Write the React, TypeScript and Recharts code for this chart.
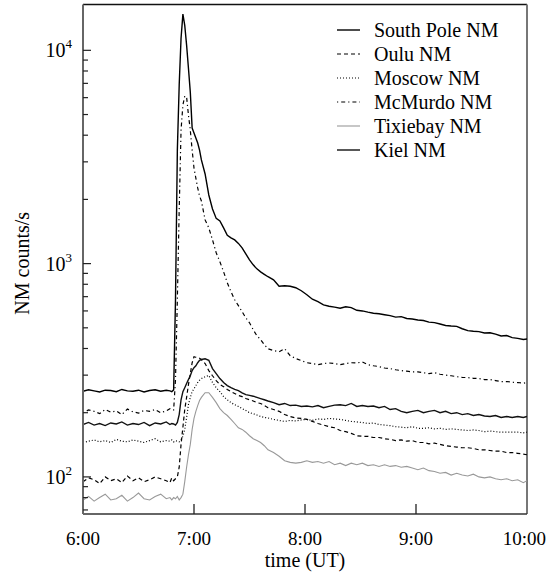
import React from 'react';
import { LineChart, Line, XAxis, YAxis, ReferenceLine, Legend, Label } from 'recharts';

// minutes after 6:00 UT
const TIME_MIN = [0,3,6,9,12,15,18,21,24,27,30,33,36,39,42,45,47,48,
  49,50,51,52,53,54,55,56,57,58,59,60,61,62,63,64,
  66,68,70,72,74,76,78,80,82,84,86,88,90,92,94,96,98,100,
  103,106,109,112,115,118,121,124,127,130,
  133,136,139,142,145,148,151,154,157,160,
  163,166,169,172,175,178,181,184,187,190,
  193,196,199,202,205,208,211,214,217,220,
  223,226,229,232,235,238,240];

const SOUTH_POLE = [252,256,253,250,255,254,251,257,253,252,255,250,254,256,252,255,253,251,
  256,678,3405,6870,11400,14790,13090,10570,8240,6370,4320,4100,3880,3675,3405,3062,
  2632,2098,1804,1629,1585,1471,1357,1320,1292,1244,1185,1111,1042,987,945,915,891,868,
  840,783,788,783,771,746,715,681,663,641,
  631,625,618,628,622,604,600,592,585,582,
  576,570,561,564,553,550,544,541,532,529,
  521,513,510,508,495,485,482,480,473,474,
  467,458,460,450,446,441,443];

const OULU = [95,99,97,93,100,96,98,94,101,96,99,95,97,100,98,96,94,99,
  96,98,100,111,142,171,207,236,271,305,343,366,364,362,360,355,
  340,315,298,283,271,265,257,251,246,241,238,233,230,227,223,221,216,211,
  207,203,196,192,189,188,186,182,178,175,
  172,170,165,163,160,156,155,155,153,153,
  151,150,148,149,147,148,145,145,143,144,
  142,140,139,138,137,137,136,134,134,133,
  132,132,130,130,129,128,127];

const MOSCOW = [145,147,149,146,148,145,150,147,146,149,147,145,148,151,146,148,147,149,
  146,148,147,146,149,155,167,190,218,236,251,259,268,277,284,289,
  295,299,277,262,251,238,230,223,218,214,209,205,200,198,195,192,190,189,
  186,184,182,184,183,185,186,184,187,186,
  188,187,186,184,182,181,180,178,179,176,
  175,174,172,171,170,172,169,169,170,168,
  169,167,168,167,166,165,166,165,163,164,
  163,162,162,162,162,161,162];

const MCMURDO = [200,206,203,198,207,201,204,196,208,202,199,205,203,207,200,204,209,206,
  206,286,677,1786,4230,5540,6100,6040,4970,4230,3405,2805,2517,2263,2076,1966,
  1603,1471,1292,1124,1020,915,813,738,677,635,595,557,528,490,459,440,417,399,
  391,386,399,370,359,351,343,340,336,340,
  342,340,336,340,343,342,346,336,332,329,
  324,322,318,315,313,311,311,308,305,308,
  303,300,298,295,293,292,290,289,286,286,
  283,280,280,278,277,275,277];

const TIXIEBAY = [78,81,77,80,83,78,79,82,77,80,84,79,78,81,83,79,80,78,
  80,79,81,78,80,83,95,111,127,142,167,188,203,216,228,236,
  248,248,236,223,209,200,194,186,178,170,167,162,156,151,148,145,140,134,
  130,125,119,117,116,117,119,117,118,116,
  118,114,116,113,116,114,116,113,114,112,
  114,112,113,111,112,110,108,110,107,106,
  104,105,102,104,102,101,103,100,99,100,
  98,97,98,96,97,94,96];

const KIEL = [176,180,175,178,174,179,177,181,175,178,176,180,174,179,177,181,176,178,
  177,175,180,196,230,251,262,274,286,298,315,325,332,343,352,355,
  358,352,322,305,289,277,268,262,257,254,248,243,241,239,236,233,230,227,
  223,218,221,216,217,214,215,213,216,211,
  214,217,218,216,221,214,216,214,215,211,
  214,207,209,203,200,203,205,200,203,205,
  200,203,198,200,196,198,194,196,193,192,
  194,190,192,190,192,190,192];

const SERIES_NAMES = ['South Pole NM', 'Oulu NM', 'Moscow NM', 'McMurdo NM', 'Tixiebay NM', 'Kiel NM'];
const X_TICKS = [0, 60, 120, 180, 240];
const Y_TICKS = [70, 80, 90, 100, 200, 300, 400, 500, 600, 700, 800, 900,
  1000, 2000, 3000, 4000, 5000, 6000, 7000, 8000, 9000, 10000];
const Y_DOMAIN = [67, 16400];
const X_DOMAIN = [0, 240];

const FONT = '"Liberation Serif", "Times New Roman", serif';

const STYLES: Record<string, { stroke: string; dash?: string; width: number }> = {
  sp: { stroke: '#000', width: 1.4 },
  ou: { stroke: '#000', dash: '4 3', width: 1.2 },
  mo: { stroke: '#000', dash: '1 2', width: 1.2 },
  mc: { stroke: '#000', dash: '1.2 3 4 3', width: 1.2 },
  tx: { stroke: '#999', width: 1.1 },
  ki: { stroke: '#111', width: 1.4 },
};
const KEYS = ['sp', 'ou', 'mo', 'mc', 'tx', 'ki'];
const VALUES = [SOUTH_POLE, OULU, MOSCOW, MCMURDO, TIXIEBAY, KIEL];

const rows = TIME_MIN.map((t, i) => {
  const r: any = { t };
  KEYS.forEach((k, j) => { r[k] = VALUES[j][i]; });
  return r;
});

const fmtTime = (m: number) => `${6 + Math.round(m / 60)}:00`;

const XTick = (props: any) => {
  const { x, y, payload } = props;
  const v = payload.value;
  const isLast = v === X_TICKS[X_TICKS.length - 1];
  const inner = v !== X_TICKS[0] && !isLast;
  return (
    <g>
      {inner && <line x1={x} y1={y} x2={x} y2={y - 10} stroke="#222" strokeWidth={1.3} />}
      <text x={isLast ? x + 19 : x} y={y} dy={31} textAnchor={isLast ? 'end' : 'middle'}
        fontFamily={FONT} fontSize={19} fill="#000">
        {fmtTime(v)}
      </text>
    </g>
  );
};

const YTick = (props: any) => {
  const { x, y, payload } = props;
  const v = payload.value;
  const lg = Math.log10(v);
  const exp = Math.round(lg);
  const major = Math.abs(lg - exp) < 1e-9;
  return (
    <g>
      <line x1={x} y1={y} x2={x + (major ? 8 : 5)} y2={y} stroke="#222" strokeWidth={1.2} />
      {major && (
        <text x={x - 11} y={y} dy={7} textAnchor="end" fontFamily={FONT} fontSize={20} fill="#000">
          10<tspan dy={-9} fontSize={13}>{exp}</tspan>
        </text>
      )}
    </g>
  );
};

const YLabel = (props: any) => {
  const vb = props.viewBox || { x: 0, y: 0, width: 0, height: 0 };
  const cx = vb.x + 22;
  const cy = vb.y + vb.height / 2 + 4;
  return (
    <text x={cx} y={cy} transform={`rotate(-90 ${cx} ${cy})`} textAnchor="middle"
      dominantBaseline="central" fontFamily={FONT} fontSize={20} fill="#000">
      NM counts/s
    </text>
  );
};

const LegendBox = () => (
  <div style={{ fontFamily: FONT, fontSize: 20, color: '#000' }}>
    {SERIES_NAMES.map((name, i) => {
      const s = STYLES[KEYS[i]];
      return (
        <div key={name} style={{ display: 'flex', alignItems: 'center', height: 24 }}>
          <svg width={24} height={24} style={{ display: 'block' }}>
            <line x1={0} y1={12} x2={23} y2={12} stroke={s.stroke}
              strokeDasharray={s.dash} strokeWidth={s.width} />
          </svg>
          <span style={{ marginLeft: 13, lineHeight: '24px', whiteSpace: 'nowrap' }}>{name}</span>
        </div>
      );
    })}
  </div>
);

export default function App() {
  return (
    <div style={{ position: 'absolute', left: 0, top: 0, width: 547, height: 573, background: '#fff' }}>
      <LineChart width={547} height={573} data={rows}
        margin={{ top: 4.5, right: 20, bottom: 0, left: 0 }}>
        <XAxis dataKey="t" type="number" domain={X_DOMAIN} ticks={X_TICKS} interval={0}
          allowDataOverflow height={59} tickSize={0} tickMargin={0} tickLine={false}
          tick={<XTick />} axisLine={{ stroke: '#333', strokeWidth: 1.6 }}>
          <Label value="time (UT)" position="insideBottom" offset={6}
            style={{ fontFamily: FONT, fontSize: 20, fill: '#000' }} />
        </XAxis>
        <YAxis type="number" scale="log" domain={Y_DOMAIN} ticks={Y_TICKS} interval={0}
          allowDataOverflow width={83} tickSize={0} tickMargin={0} tickLine={false}
          tick={<YTick />} axisLine={{ stroke: '#666', strokeWidth: 2 }}>
          <Label content={<YLabel />} />
        </YAxis>
        <ReferenceLine y={Y_DOMAIN[1]} stroke="#111" strokeWidth={1.5} />
        <ReferenceLine x={X_DOMAIN[1]} stroke="#777" strokeWidth={2} />
        {KEYS.map((k, i) => {
          const s = STYLES[k];
          return (
            <Line key={k} dataKey={k} name={SERIES_NAMES[i]} type="linear" dot={false}
              stroke={s.stroke} strokeWidth={s.width} strokeDasharray={s.dash}
              isAnimationActive={false} />
          );
        })}
        <Legend content={<LegendBox />} layout="vertical" verticalAlign="middle" align="center"
          wrapperStyle={{ position: 'absolute', left: 337, top: 18, width: 200 }} />
      </LineChart>
    </div>
  );
}
